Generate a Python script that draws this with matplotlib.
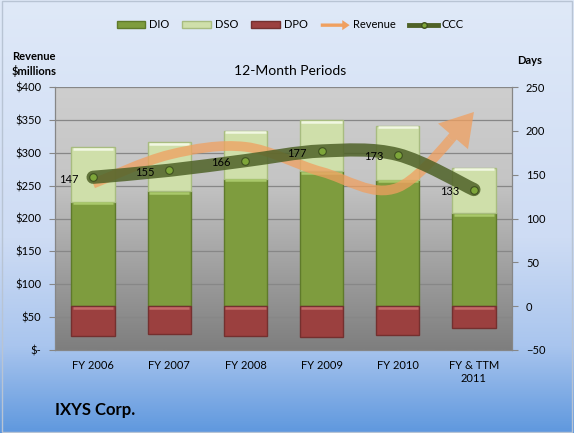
import numpy as np
import matplotlib as mpl
mpl.use("agg")
import matplotlib.pyplot as plt
from matplotlib.path import Path
from matplotlib.patches import PathPatch, Rectangle, FancyArrow, Patch
from matplotlib.colors import LinearSegmentedColormap
from matplotlib.legend_handler import HandlerPatch
from matplotlib.lines import Line2D
from matplotlib.transforms import blended_transform_factory
import matplotlib.ticker as mticker

plt.rcParams["font.family"] = ["Lato", "DejaVu Sans"]

# data
periods = ["FY 2006", "FY 2007", "FY 2008", "FY 2009", "FY 2010", "FY & TTM\n2011"]
dio = [119, 131, 145, 154, 144, 106]
dso = [62, 56, 55, 58, 62, 52]
dpo = [34, 32, 34, 35, 33, 25]
ccc = [147, 155, 166, 177, 173, 133]
revenue = [253, 297, 309, 271, 247, 362]

days_ticks = [-50, 0, 50, 100, 150, 200, 250]
dollar_ticks = [0, 50, 100, 150, 200, 250, 300, 350, 400]

DIO_C, DIO_E, DIO_H = "#7e9c3e", "#5f7a2b", "#a9c86a"
DSO_C, DSO_E, DSO_H = "#cfdfaa", "#a8bc80", "#f1f7e2"
DPO_C, DPO_E, DPO_H = "#9b403f", "#74302f", "#c46a69"
REV_C = "#f0a060"
CCC_C = "#4f6228"


def smooth_points(xs, ys):
    pts = np.column_stack([xs, ys]).astype(float)
    n = len(pts)
    segs = []
    for i in range(n - 1):
        p0 = pts[max(i - 1, 0)]
        p1, p2 = pts[i], pts[i + 1]
        p3 = pts[min(i + 2, n - 1)]
        segs.append((p1, p1 + (p2 - p0) / 6, p2 - (p3 - p1) / 6, p2))
    return segs


def segs_to_path(segs):
    verts = [segs[0][0]]
    codes = [Path.MOVETO]
    for s in segs:
        verts += [s[1], s[2], s[3]]
        codes += [Path.CURVE4] * 3
    return Path(verts, codes)


def split_cubic(p0, c1, c2, p3, t):
    a = p0 + (c1 - p0) * t
    b = c1 + (c2 - c1) * t
    c = c2 + (p3 - c2) * t
    d = a + (b - a) * t
    e = b + (c - b) * t
    f = d + (e - d) * t
    return (p0, a, d, f)


def make_arrow(legend, orig_handle, xdescent, ydescent, width, height, fontsize):
    return FancyArrow(0, height / 2, width, 0, width=height * 0.5,
                      head_width=height * 1.5, head_length=height * 1.1,
                      length_includes_head=True)


fig = plt.figure(figsize=(5.74, 4.33), dpi=100)

# figure background gradient
bg = fig.add_axes([0, 0, 1, 1], zorder=-10)
bg_cmap = LinearSegmentedColormap.from_list(
    "bg", [(0, "#dfe9f8"), (0.55, "#cedcf4"), (0.8, "#a9c5ee"), (1, "#5f98de")])
bg.imshow(np.linspace(0, 1, 256).reshape(-1, 1), cmap=bg_cmap, aspect="auto",
          extent=[0, 1, 0, 1], transform=bg.transAxes)
bg.add_patch(Rectangle((0.003, 0.003), 0.994, 0.994, transform=bg.transAxes,
                       fill=False, edgecolor="#b8c4d4", lw=1))
bg.set_axis_off()

ax = fig.add_axes([55 / 574, 1 - 350 / 433, 457 / 574, 263 / 433])
ax2 = ax.twinx()
x = np.arange(len(periods))
ax.set_xlim(-0.5, len(periods) - 0.5)
ax.set_ylim(-50, 250)
ax2.set_ylim(0, 400)

# plot area gradient
pa_cmap = LinearSegmentedColormap.from_list(
    "pa", [(0, "#cecece"), (0.35, "#c5c5c5"), (1, "#7e7e7e")])
ax.imshow(np.linspace(0, 1, 256).reshape(-1, 1), cmap=pa_cmap, aspect="auto",
          extent=[0, 1, 0, 1], transform=ax.transAxes, zorder=0)
ax.set_facecolor("none")

grid_tr = blended_transform_factory(ax.transAxes, ax2.transData)
for v in dollar_ticks[1:]:
    ax.add_line(Line2D([0, 1], [v, v], transform=grid_tr, color="#878787",
                       lw=0.9, zorder=1))

w = 0.57
dso_top = [a + b for a, b in zip(dio, dso)]
ax.bar(x, dio, w, color=DIO_C, edgecolor=DIO_E, lw=1, zorder=2)
ax.bar(x, dso, w, bottom=dio, color=DSO_C, edgecolor=DSO_E, lw=1, zorder=2)
ax.bar(x, [-d for d in dpo], w, color=DPO_C, edgecolor=DPO_E, lw=1, zorder=2)
# bevel highlight along the top of each block
for tops, col in [(dio, DIO_H), (dso_top, DSO_H), ([0] * len(x), DPO_H)]:
    ax.hlines(np.array(tops) - 1.6, x - w / 2 + 0.02, x + w / 2 - 0.02,
              color=col, lw=1.8, zorder=2.5)

# revenue: smooth orange line ending in an arrow head
segs = smooth_points(x, revenue)
last = split_cubic(*segs[-1], 0.62)
body = segs_to_path(segs[:-1] + [last])
ax2.add_patch(PathPatch(body, fill=False, edgecolor=REV_C, lw=7, alpha=0.75,
                        capstyle="butt", zorder=3))
ax2.annotate("", xy=(x[-1], revenue[-1]), xytext=tuple(last[3]),
             arrowprops=dict(arrowstyle="simple,head_length=1.1,head_width=1.35,tail_width=0.33",
                             color=REV_C, alpha=0.75, lw=0, shrinkA=0, shrinkB=0,
                             mutation_scale=21), zorder=3)

# CCC: smooth dark band on the days scale
ccc_path = segs_to_path(smooth_points(x, ccc))
ax2.add_patch(PathPatch(ccc_path, fill=False, edgecolor=CCC_C, lw=9.5, alpha=0.85,
                        capstyle="round", transform=ax.transData, zorder=4))
ax2.plot(x, ccc, ls="none", marker="o", ms=5.5, mfc="#7ea63a", mec="#3f5020",
         mew=0.8, transform=ax.transData, zorder=5)
for xi, c in zip(x, ccc):
    ax2.annotate(f"{c}", (xi, c), xycoords=ax.transData, xytext=(-10.5, -1.5),
                 textcoords="offset points", ha="right", va="center",
                 fontsize=8, color="black", zorder=6)

# axes cosmetics
ax.yaxis.tick_right()
ax2.yaxis.tick_left()
ax.set_yticks(days_ticks)
ax2.set_yticks(dollar_ticks)
ax2.yaxis.set_major_formatter(
    mticker.FuncFormatter(lambda v, p: "$-" if v == 0 else f"${v:.0f}"))
ax.set_xticks(x)
ax.set_xticklabels(periods, fontsize=8)
ax.tick_params(axis="x", length=0, pad=7)
ax.tick_params(axis="y", labelsize=8, length=4, color="#868686", pad=6)
ax2.tick_params(axis="y", labelsize=8, length=4, color="#868686", pad=6)
for s in ax2.spines.values():
    s.set_visible(False)
for name, s in ax.spines.items():
    s.set_color("#868686")
    s.set_linewidth(0.9)
ax.spines["top"].set_visible(False)

# texts
fig.text(290 / 574, 1 - 71 / 433, "12-Month Periods", ha="center", va="center",
         fontsize=10)
fig.text(12 / 574, 1 - 64 / 433, "Revenue\n$millions", ha="left", va="center",
         fontsize=8, fontweight="bold", linespacing=1.3)
fig.text(530 / 574, 1 - 60 / 433, "Days", ha="center", va="center",
         fontsize=8, fontweight="bold")
fig.text(55 / 574, 1 - 410 / 433, "IXYS Corp.", ha="left", va="center",
         fontsize=12, fontweight="bold")

handles = [
    Patch(facecolor=DIO_C, edgecolor=DIO_E),
    Patch(facecolor=DSO_C, edgecolor=DSO_E),
    Patch(facecolor=DPO_C, edgecolor=DPO_E),
    Patch(facecolor=REV_C, edgecolor="none"),
    Line2D([], [], color=CCC_C, lw=3.5, marker="o", ms=4, mfc="#7ea63a", mec="#3f5020"),
]
fig.legend(handles, ["DIO", "DSO", "DPO", "Revenue", "CCC"], ncol=5,
           loc="center", bbox_to_anchor=(290 / 574, 1 - 25 / 433), frameon=False,
           fontsize=8, handlelength=2.6, handleheight=0.55, handletextpad=0.3,
           columnspacing=1.2,
           handler_map={handles[3]: HandlerPatch(patch_func=make_arrow)})

fig.savefig("out.png", dpi=100)
